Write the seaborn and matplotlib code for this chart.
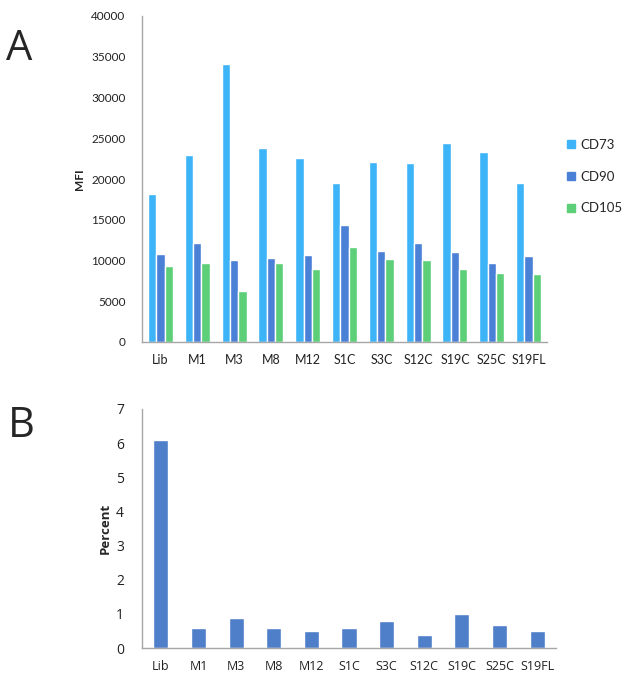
import numpy as np
import pandas as pd
import matplotlib
matplotlib.use("Agg")
import matplotlib.pyplot as plt
import seaborn as sns

# Data
samples = ["Lib", "M1", "M3", "M8", "M12", "S1C", "S3C", "S12C", "S19C", "S25C", "S19FL"]
cd73 = [18200, 22900, 34100, 23800, 22600, 19500, 22100, 22000, 24400, 23300, 19500]
cd90 = [10800, 12100, 10100, 10300, 10700, 14400, 11200, 12100, 11000, 9700, 10500]
cd105 = [9350, 9700, 6200, 9700, 9000, 11600, 10200, 10100, 9000, 8500, 8400]
percent = [6.08, 0.59, 0.88, 0.59, 0.50, 0.59, 0.79, 0.38, 1.00, 0.67, 0.50]

markers = ["CD73", "CD90", "CD105"]
colors = {"CD73": "#3db4f7", "CD90": "#4a80d6", "CD105": "#5ccf78"}
bar_b = "#4f7fc8"
spine_col = "#a6a6a6"

sns.set_style("white")
plt.rcParams["font.family"] = ["Lato", "DejaVu Sans"]

df_a = pd.DataFrame({"sample": samples, "CD73": cd73, "CD90": cd90, "CD105": cd105})
df_a = df_a.melt(id_vars="sample", var_name="marker", value_name="MFI")
df_b = pd.DataFrame({"sample": samples, "Percent": percent})

fig = plt.figure(figsize=(6.24, 6.79), dpi=100)

# Panel A
ax1 = fig.add_axes([142 / 624, 1 - 342 / 679, 405 / 624, 326 / 679])
sns.barplot(data=df_a, x="sample", y="MFI", hue="marker", hue_order=markers,
            palette=colors, width=0.68, gap=0, saturation=1, ax=ax1, legend=False)
ax1.set_ylim(0, 40000)
ax1.set_xlim(-0.5, len(samples) - 0.5)
ax1.set_yticks(np.arange(0, 40001, 5000))
ax1.set_xlabel("")
ax1.set_ylabel("MFI", fontsize=8.5, fontweight="bold", labelpad=4)
ax1.tick_params(axis="y", labelsize=8.5, colors="#222222", length=3, direction="in",
                color=spine_col, pad=12)
ax1.tick_params(axis="x", labelsize=9, colors="#222222", length=0, pad=9)
for s in ["top", "right"]:
    ax1.spines[s].set_visible(False)
for s in ["left", "bottom"]:
    ax1.spines[s].set_color(spine_col)
    ax1.spines[s].set_linewidth(1.0)

handles = [plt.Rectangle((0, 0), 1, 1, color=colors[m]) for m in markers]
fig.legend(handles, markers, loc="upper left", bbox_to_anchor=(555 / 624, 1 - 127 / 679),
           frameon=False, fontsize=9.5, handlelength=0.6, handleheight=0.6,
           handletextpad=0.4, labelspacing=1.5)

# Panel B
ax2 = fig.add_axes([142 / 624, 1 - 648 / 679, 414 / 624, 239 / 679])
sns.barplot(data=df_b, x="sample", y="Percent", color=bar_b, width=0.4,
            saturation=1, ax=ax2)
ax2.set_ylim(0, 7)
ax2.set_xlim(-0.5, len(samples) - 0.5)
ax2.set_yticks(range(0, 8))
ax2.set_xlabel("")
ax2.set_ylabel("Percent", fontsize=9.5, fontweight="bold", labelpad=3,
               family=["Open Sans", "DejaVu Sans"])
ax2.tick_params(axis="y", labelsize=10, colors="#222222", length=3, direction="out",
                color=spine_col, pad=10)
ax2.tick_params(axis="x", labelsize=9, colors="#222222", length=0, pad=9)
for lab in ax2.get_xticklabels() + ax2.get_yticklabels():
    lab.set_family(["Open Sans", "DejaVu Sans"])
for s in ["top", "right"]:
    ax2.spines[s].set_visible(False)
for s in ["left", "bottom"]:
    ax2.spines[s].set_color(spine_col)
    ax2.spines[s].set_linewidth(1.0)

# Panel letters
fig.text(6 / 624, 1 - 49 / 679, "A", fontsize=30, va="center", ha="left",
         family=["Open Sans", "DejaVu Sans"])
fig.text(8 / 624, 1 - 426 / 679, "B", fontsize=30, va="center", ha="left",
         family=["Open Sans", "DejaVu Sans"])

fig.savefig("out.png", dpi=100)
